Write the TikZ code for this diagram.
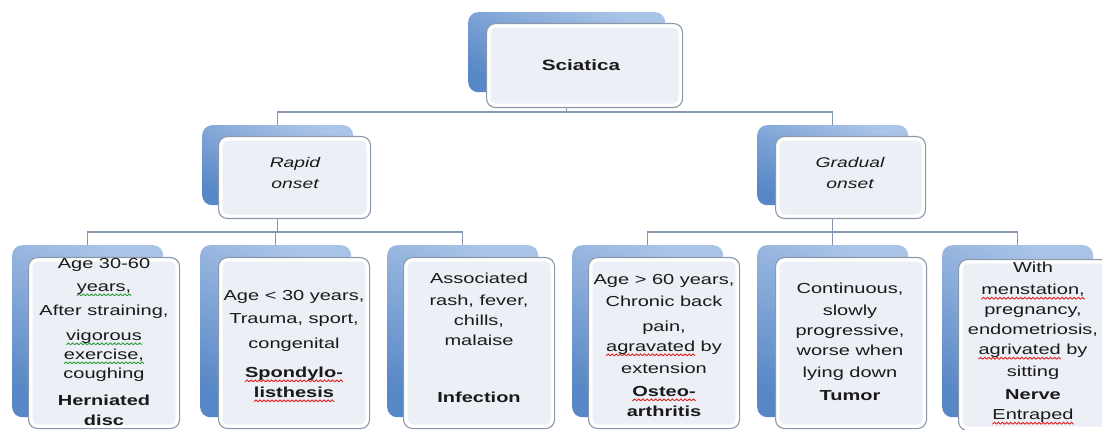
\documentclass[tikz,border=0pt]{standalone}
\usepackage{fontspec}
\newfontfamily\wsans[FakeStretch=1.38]{Liberation Sans}
\definecolor{txt}{HTML}{1A1A1A}
\definecolor{lnc}{HTML}{8797B0}
\definecolor{bktop}{HTML}{AAC4E7}
\definecolor{bkbot}{HTML}{5787C6}
\definecolor{frin}{HTML}{ECEFF5}
\definecolor{frbd}{HTML}{8B98AC}
\definecolor{wred}{HTML}{E0201E}
\definecolor{wgrn}{HTML}{2E9E3A}
\newsavebox\redpiece
\newsavebox\grnpiece
\sbox\redpiece{\tikz[baseline=0pt]{\useasboundingbox (0,-0.6pt) rectangle (4pt,2pt); \draw[wred,line width=0.9pt] (0,0) -- (2pt,1.9pt) -- (4pt,0);}}
\sbox\grnpiece{\tikz[baseline=0pt]{\useasboundingbox (0,-0.6pt) rectangle (4pt,2pt); \draw[wgrn,line width=0.9pt] (0,0) -- (2pt,1.9pt) -- (4pt,0);}}
\newcommand\redwave[1]{\leavevmode\setbox0\hbox{#1}\rlap{\raisebox{-4.5pt}{\hbox to \wd0{\xleaders\copy\redpiece\hfill}}}\box0\relax}
\newcommand\grnwave[1]{\leavevmode\setbox0\hbox{#1}\rlap{\raisebox{-4.5pt}{\hbox to \wd0{\xleaders\copy\grnpiece\hfill}}}\box0\relax}
\tikzset{
  backbox/.style={rounded corners=10pt, inner sep=0pt, anchor=north west,
    top color=bktop, bottom color=bkbot, shading angle=-25, draw=none},
  frontbox/.style={rounded corners=9pt, inner sep=0pt, anchor=north west,
    fill=white, draw=frbd, line width=1.1pt,
    path picture={\fill[frin, rounded corners=6pt]
      ([shift={(4pt,-4pt)}]path picture bounding box.north west) rectangle
      ([shift={(-4pt,4pt)}]path picture bounding box.south east);}},
  conn/.style={draw=lnc, line width=1.4pt},
  lbl/.style={font={\wsans\fontsize{14.5}{20}\selectfont}, text=txt, align=center, inner sep=0pt},
}
\begin{document}
\begin{tikzpicture}[x=1pt,y=-1pt]
\useasboundingbox (0,0) rectangle (1102,430);
% top
\node[backbox, minimum width=197pt, minimum height=80pt] (sciB) at (468,12) {};
\node[frontbox, minimum width=196pt, minimum height=84pt] (sciF) at (486,23) {};
\node[lbl, font={\wsans\bfseries\fontsize{15}{20}\selectfont}] (sciT) at (581,65) {Sciatica};
% level 2
\node[backbox, minimum width=151pt, minimum height=80pt] (rapB) at (202,125) {};
\node[frontbox, minimum width=152pt, minimum height=82pt] (rapF) at (218,136) {};
\node[lbl, font={\wsans\itshape\fontsize{14}{21}\selectfont}] (rapT) at (295,173) {Rapid\\onset};
\node[backbox, minimum width=151pt, minimum height=80pt] (graB) at (757,125) {};
\node[frontbox, minimum width=150pt, minimum height=82pt] (graF) at (775,136) {};
\node[lbl, font={\wsans\itshape\fontsize{14}{21}\selectfont}] (graT) at (850,173) {Gradual\\onset};
% level 3
\foreach \n/\bx/\fx/\ft in {b1/12/28/257, b2/200/218/257, b3/387/403/257, b4/572/588/257, b5/757/775/257, b6/942/958/259}{
  \node[backbox, minimum width=151pt, minimum height=172pt] (\n B) at (\bx,245) {};
  \node[frontbox, minimum width=151pt, minimum height=171pt] (\n F) at (\fx,\ft) {};
}
% texts
\node[lbl, anchor=north] (t1) at (104,258) {Age 30-60\\[3pt]\grnwave{years,}\\[4pt]After straining,\\[5pt]\grnwave{vigorous}\\[-1pt]\grnwave{exercise,}\\[-1pt]coughing\\[7pt]\textbf{Herniated}\\\textbf{disc}};
\node[lbl, anchor=north] (t2) at (294,290) {Age {<} 30 years,\\[3pt]Trauma, sport,\\[5pt]congenital\\[9pt]\textbf{\redwave{Spondylo-}}\\\textbf{\redwave{listhesis}}};
\node[lbl, anchor=north] (t3) at (479,273) {Associated\\[2pt]rash, fever,\\chills,\\malaise};
\node[lbl, anchor=north] (t3b) at (479,392) {\textbf{Infection}};
\node[lbl, anchor=north] (t4) at (664,274) {Age {>} 60 years,\\[2pt]Chronic back\\[5pt]pain,\\\redwave{agravated} by\\[2pt]extension\\[3pt]\textbf{\redwave{Osteo-}}\\\textbf{arthritis}};
\node[lbl, anchor=north] (t5) at (850,283) {Continuous,\\[2pt]slowly\\progressive,\\worse when\\[2pt]lying down\\[3pt]\textbf{Tumor}};
\node[lbl, anchor=north] (t6) at (1033,262) {With\\[2pt]\redwave{menstation,}\\pregnancy,\\endometriosis,\\\redwave{agrivated} by\\[2pt]sitting\\[3pt]\textbf{Nerve}\\\redwave{Entraped}};
% connectors
\coordinate (bus1) at (0,112);
\coordinate (bus2) at (0,232);
\draw[conn] (sciF.south -| sciB.north) -- (sciB.north |- bus1);
\draw[conn] (rapB.north) -- (rapB.north |- bus1) -- (graB.north |- bus1) -- (graB.north);
\draw[conn] (rapF.south -| rapB.north) -- (rapB.north |- bus2);
\draw[conn] (b1B.north) -- (b1B.north |- bus2) -- (b3B.north |- bus2) -- (b3B.north);
\draw[conn] (b2B.north |- bus2) -- (b2B.north);
\draw[conn] (graF.south -| graB.north) -- (graB.north |- bus2);
\draw[conn] (b4B.north) -- (b4B.north |- bus2) -- (b6B.north |- bus2) -- (b6B.north);
\draw[conn] (b5B.north |- bus2) -- (b5B.north);
\end{tikzpicture}
\end{document}
